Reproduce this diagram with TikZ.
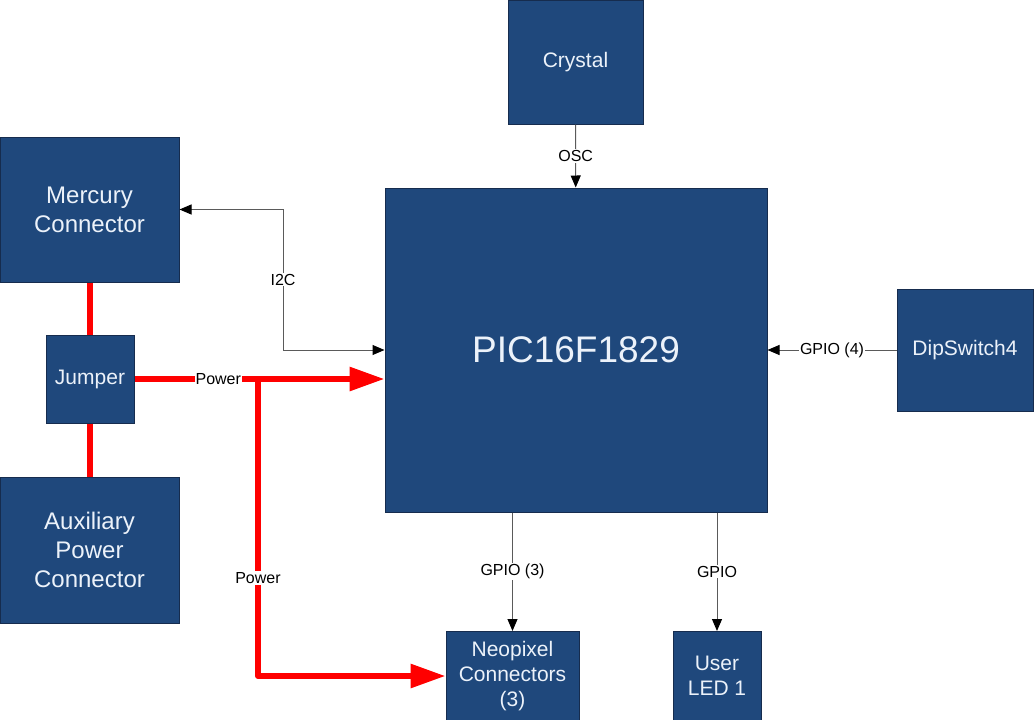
\documentclass[tikz,border=0pt]{standalone}
\usepackage{fontspec}
\setmainfont{Liberation Sans}
\usetikzlibrary{arrows.meta}
\definecolor{boxblue}{RGB}{31,72,124}
\definecolor{boxedge}{RGB}{22,44,78}
\definecolor{boxtext}{RGB}{236,242,250}
\definecolor{sigline}{RGB}{90,90,90}
\definecolor{powred}{RGB}{255,0,0}
\tikzset{
  blk/.style={draw=boxedge, line width=1pt, fill=boxblue, text=boxtext, align=center, inner sep=0pt, anchor=center},
  blkm/.style={blk, font=\fontsize{21}{25}\selectfont},
  blkl/.style={blk, font=\fontsize{24}{29}\selectfont},
  sig/.style={draw=sigline, line width=1pt, -{Triangle[length=12pt,width=10pt,color=black]}},
  sigboth/.style={draw=sigline, line width=1pt, {Triangle[length=12pt,width=10pt,color=black]}-{Triangle[length=12pt,width=10pt,color=black]}},
  pow/.style={draw=powred, line width=6pt, line join=round, -{Triangle[length=35pt,width=23pt]}},
  redline/.style={draw=powred, line width=6pt},
  lbl/.style={fill=white, text=black, inner sep=1pt, font=\fontsize{16}{19}\selectfont}
}
\begin{document}
\begin{tikzpicture}[x=1pt,y=-1pt]
\useasboundingbox (0,0) rectangle (1034,720);
\fill[white] (0,0) rectangle (1034,720);
% blocks
\node[blkm, minimum width=135, minimum height=124] (crystal) at (575.5,62) {Crystal};
\node[blk, font=\fontsize{37}{44}\selectfont, minimum width=382, minimum height=324] (pic) at (576,350) {PIC16F1829};
\node[blkl, minimum width=179, minimum height=145] (merc) at (89.5,209.5) {Mercury\\Connector};
\node[blkm, minimum width=88, minimum height=88] (jumper) at (90,379) {Jumper};
\node[blkl, minimum width=179, minimum height=146] (aux) at (89.5,550) {Auxiliary\\Power\\Connector};
\node[blkm, minimum width=136, minimum height=122] (dip) at (965,350) {DipSwitch4};
\node[blkm, minimum width=133, minimum height=89] (neo) at (512.5,676) {Neopixel\\Connectors\\(3)};
\node[blkm, minimum width=88, minimum height=89] (led) at (717,676) {User\\LED 1};
% coordinates
\coordinate (i2c) at (283,0);
\coordinate (br) at (258,379);
% signal connectors
\draw[sig] (crystal) -- node[lbl]{OSC} (pic);
\draw[sigboth] (merc.east) -- (merc.east -| i2c) -- node[lbl, pos=0.5]{I2C} (i2c |- pic.west) -- (pic.west);
\draw[sig] (dip.west) -- node[lbl]{GPIO (4)} (dip.west -| pic.east);
\draw[sig] (pic.south -| neo.north) -- node[lbl]{GPIO (3)} (neo.north);
\draw[sig] (pic.south -| led.north) -- node[lbl]{GPIO} (led.north);
% power
\draw[redline] (jumper.north) -- (jumper.north |- merc.south);
\draw[redline] (jumper.south) -- (jumper.south |- aux.north);
\draw[pow] (br) -- node[lbl, pos=0.67]{Power} (br |- neo.west) -- (neo.west);
\draw[pow] (jumper.east) -- node[lbl, pos=0.335]{Power} (jumper.east -| pic.west);
\end{tikzpicture}
\end{document}
